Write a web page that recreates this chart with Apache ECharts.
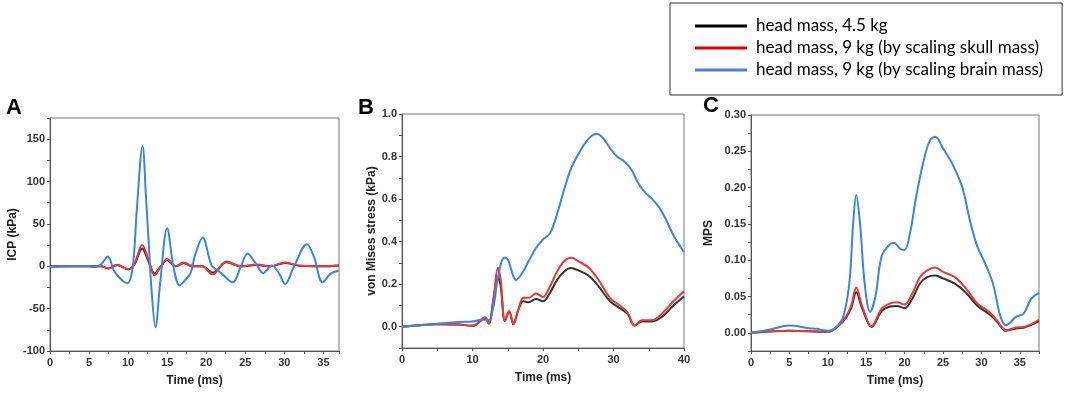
<!DOCTYPE html>
<html><head><meta charset="utf-8">
<script src="https://cdn.jsdelivr.net/npm/echarts@6/dist/echarts.min.js"></script>
<style>html,body{margin:0;padding:0;background:#fff}#c{width:1065px;height:393px}</style>
</head><body><div id="c"></div>
<script>
// ---------- data ----------
const seriesNames = ['head mass, 4.5 kg', 'head mass, 9 kg (by scaling skull mass)', 'head mass, 9 kg (by scaling brain mass)'];

// Panel A: ICP (kPa)
const tA_blue = [0, 2.5, 5, 5.6, 6.5, 7.4, 8.3, 9.9, 10.6, 11.1, 11.85, 12.3, 12.6, 13.0, 13.5, 14.1, 15.0, 15.8, 16.6, 17.4, 18.0, 18.6, 19.55, 20.7, 21.8, 23.4, 24.4, 25.3, 26.3, 27.3, 28.4, 29.3, 30.1, 31.2, 32.9, 33.8, 34.9, 35.9, 37];
const blueA  = [-1, 0, 0, -1, 2, 11.5, -7, -20, 0, 65, 142, 80, 34, -28, -72, -20, 45, 0, -22.5, -15, -8, 14, 34, 1, -7, -19, -1, 15, 4, -8, 1, -8, -21, -1, 26, 11, -19, -9, -5];
const tA_red = [0, 5, 6.5, 7.5, 8.6, 10.0, 10.8, 11.8, 12.6, 13.4, 14.2, 15.0, 16.1, 17.1, 18.3, 19.5, 20.8, 22.6, 24.4, 26.5, 28.2, 30.1, 32.0, 35, 37];
const redA   = [0, 0, 0, -2.5, 1.5, -3.5, 3, 25, 8, -10.5, 0, 8.5, 0, 4.5, 0, 0, -9.5, 5.6, 0, 2, 0, 4.5, 0.5, 0, 1];
const blackA = [0, 0, 0, -2.5, 1.5, -3.5, 2, 21, 6, -8.5, 0, 7, 0, 3.5, 0, 0, -7.5, 4.8, 0, 1.5, 0, 4, 0.5, 0, 1];
const xTicksA = [0, 5, 10, 15, 20, 25, 30, 35];
const yTicksA = [-100, -50, 0, 50, 100, 150];

// Panel B: von Mises stress (kPa)
const tB_blue = [0, 5, 8, 10, 11.5, 12.3, 13, 13.6, 14.5, 15, 16.2, 17, 18, 19, 20, 21, 22, 23, 24, 25, 26, 27, 27.7, 28.5, 29.5, 30.5, 31.5, 32.5, 33.5, 34.5, 35.5, 36.5, 37.5, 38.5, 40];
const blueB  = [0, 0.014, 0.022, 0.025, 0.034, 0.03, 0.1, 0.23, 0.324, 0.316, 0.22, 0.25, 0.31, 0.37, 0.41, 0.44, 0.53, 0.645, 0.746, 0.81, 0.864, 0.9, 0.906, 0.887, 0.84, 0.80, 0.778, 0.74, 0.676, 0.63, 0.6, 0.56, 0.5, 0.43, 0.35];
const tB_red = [0, 5, 8, 10, 10.5, 11.8, 12.3, 13, 13.6, 14, 14.6, 15.2, 15.8, 16.5, 17.2, 18, 19, 20, 21, 22, 23, 24, 25, 26.5, 28, 29.5, 31, 32, 33, 34, 35.5, 37, 38.5, 40];
const redB   = [0, 0.012, 0.01, 0.005, 0.01, 0.045, 0.015, 0.14, 0.277, 0.22, 0.027, 0.074, 0.012, 0.08, 0.136, 0.136, 0.156, 0.14, 0.19, 0.26, 0.308, 0.324, 0.308, 0.277, 0.214, 0.136, 0.097, 0.066, 0.006, 0.031, 0.031, 0.066, 0.12, 0.167];
const blackB = [0, 0.012, 0.01, 0.005, 0.01, 0.04, 0.015, 0.13, 0.235, 0.19, 0.027, 0.07, 0.012, 0.08, 0.12, 0.115, 0.13, 0.12, 0.16, 0.22, 0.26, 0.276, 0.265, 0.24, 0.185, 0.12, 0.085, 0.06, 0.006, 0.025, 0.025, 0.05, 0.1, 0.142];
const xTicksB = [0, 10, 20, 30, 40];
const yTicksB = [0, 0.2, 0.4, 0.6, 0.8, 1.0];

// Panel C: MPS
const tC_blue = [0, 2.5, 5, 7.5, 8.5, 10, 11, 12, 12.8, 13.3, 13.7, 14.2, 14.8, 15.5, 16.2, 17, 18, 18.6, 19.4, 20, 20.7, 21.5, 22.5, 23.3, 24, 25, 26.2, 27.5, 28.5, 29.5, 30.5, 31.5, 32.5, 33.2, 34.5, 35.5, 36.5, 37.5];
const blueC  = [0, 0.0046, 0.01, 0.0064, 0.0055, 0.003, 0.007, 0.022, 0.068, 0.15, 0.19, 0.15, 0.068, 0.029, 0.05, 0.105, 0.121, 0.124, 0.116, 0.114, 0.137, 0.187, 0.238, 0.265, 0.27, 0.254, 0.233, 0.201, 0.155, 0.118, 0.0955, 0.068, 0.022, 0.0106, 0.022, 0.0266, 0.047, 0.055];
const tC_red = [0, 5, 10, 12, 13, 13.7, 14.5, 15.7, 17, 18, 19, 20, 21, 22, 23, 24, 25, 26.5, 28, 29.5, 31, 32, 33.2, 34.5, 35.5, 37.5];
const redC   = [0, 0.003, 0.0015, 0.017, 0.036, 0.0625, 0.036, 0.009, 0.0335, 0.04, 0.042, 0.039, 0.054, 0.077, 0.0864, 0.09, 0.084, 0.077, 0.061, 0.04, 0.029, 0.0175, 0.0037, 0.0073, 0.008, 0.018];
const blackC = [0, 0.003, 0.0015, 0.016, 0.033, 0.056, 0.033, 0.008, 0.03, 0.036, 0.037, 0.034, 0.047, 0.068, 0.077, 0.079, 0.075, 0.068, 0.055, 0.037, 0.026, 0.016, 0.003, 0.006, 0.007, 0.016];
const xTicksC = [0, 5, 10, 15, 20, 25, 30, 35];
const yTicksC = [0, 0.05, 0.10, 0.15, 0.20, 0.25, 0.30];

// ---------- chart ----------
const colors = ['#333333', '#e53935', '#3d85d8'];
const legendColors = ['#000000', '#e00000', '#4a7fd4'];
const FONT = 'Liberation Sans, Arial, sans-serif';
const pts = (t, v) => t.map((x, i) => [x, v[i]]);

function xAx(gi, max, interval, labels) {
  return {
    type: 'value', gridIndex: gi, min: 0, max: max, interval: interval,
    name: 'Time (ms)', nameLocation: 'middle', nameGap: 24,
    nameTextStyle: { fontFamily: FONT, fontWeight: 'bold', fontSize: 12, color: '#222' },
    axisLine: { show: true, onZero: false, lineStyle: { color: '#555', width: 1 } },
    axisTick: { show: true, inside: false, length: 3, lineStyle: { color: '#555' } },
    axisLabel: { customValues: labels, fontFamily: FONT, fontWeight: 'bold', fontSize: 11, color: '#333', margin: 6 },
    splitLine: { show: false }
  };
}
function yAx(gi, min, max, interval, labels, name, gap, dec) {
  return {
    type: 'value', gridIndex: gi, min: min, max: max, interval: interval,
    name: name, nameLocation: 'middle', nameGap: gap,
    nameTextStyle: { fontFamily: FONT, fontWeight: 'bold', fontSize: 12, color: '#222' },
    axisLine: { show: true, onZero: false, lineStyle: { color: '#555', width: 1 } },
    axisTick: { show: true, inside: false, length: 3, lineStyle: { color: '#555' } },
    axisLabel: { customValues: labels, fontFamily: FONT, fontWeight: 'bold', fontSize: 11, color: '#333', margin: 5,
      formatter: v => dec === null ? String(Math.round(v)) : Number(v).toFixed(dec) },
    splitLine: { show: false }
  };
}
function line(name, gi, data, ci) {
  return {
    type: 'line', name: name, xAxisIndex: gi, yAxisIndex: gi, data: data,
    smooth: 0.35, symbol: 'none', showSymbol: false, color: colors[ci],
    lineStyle: { width: 2, color: colors[ci] }, z: 2 + ci, animation: false
  };
}

const chart = echarts.init(document.getElementById('c'), null, { renderer: 'canvas' });
chart.setOption({
  animation: false,
  backgroundColor: '#fff',
  grid: [
    { left: 50, top: 118, width: 289, height: 233, show: true, borderColor: '#777', borderWidth: 1 },
    { left: 402, top: 114, width: 282, height: 234, show: true, borderColor: '#777', borderWidth: 1 },
    { left: 751, top: 115, width: 288, height: 236, show: true, borderColor: '#777', borderWidth: 1 }
  ],
  xAxis: [
    xAx(0, 37, 2.5, xTicksA),
    xAx(1, 40, 5, xTicksB),
    xAx(2, 37.5, 2.5, xTicksC)
  ],
  yAxis: [
    yAx(0, -100, 175, 25, yTicksA, 'ICP (kPa)', 30, null),
    yAx(1, -0.1, 1.0, 0.1, yTicksB, 'von Mises stress (kPa)', 24, 1),
    yAx(2, -0.025, 0.3, 0.025, yTicksC, 'MPS', 36, 2)
  ],
  legend: {
    orient: 'vertical', left: 670, top: 3,
    padding: [14, 19, 16, 25], itemGap: 4, itemWidth: 52, itemHeight: 3,
    icon: 'rect',
    borderColor: '#333', borderWidth: 1,
    textStyle: { fontFamily: 'Lato, sans-serif', fontSize: 17, color: '#000', lineHeight: 18, padding: [0, 0, 0, 4] },
    data: seriesNames.map((n, i) => ({ name: n, itemStyle: { color: legendColors[i] } }))
  },
  graphic: [
    { type: 'text', left: 6, top: 97, style: { text: 'A', font: 'bold 22px ' + FONT, fill: '#000' } },
    { type: 'text', left: 358, top: 97, style: { text: 'B', font: 'bold 22px ' + FONT, fill: '#000' } },
    { type: 'text', left: 703, top: 95, style: { text: 'C', font: 'bold 22px ' + FONT, fill: '#000' } }
  ],
  series: [
    line(seriesNames[0], 0, pts(tA_red, blackA), 0),
    line(seriesNames[1], 0, pts(tA_red, redA), 1),
    line(seriesNames[2], 0, pts(tA_blue, blueA), 2),
    line(seriesNames[0], 1, pts(tB_red, blackB), 0),
    line(seriesNames[1], 1, pts(tB_red, redB), 1),
    line(seriesNames[2], 1, pts(tB_blue, blueB), 2),
    line(seriesNames[0], 2, pts(tC_red, blackC), 0),
    line(seriesNames[1], 2, pts(tC_red, redC), 1),
    line(seriesNames[2], 2, pts(tC_blue, blueC), 2)
  ]
});
</script>
</body></html>
